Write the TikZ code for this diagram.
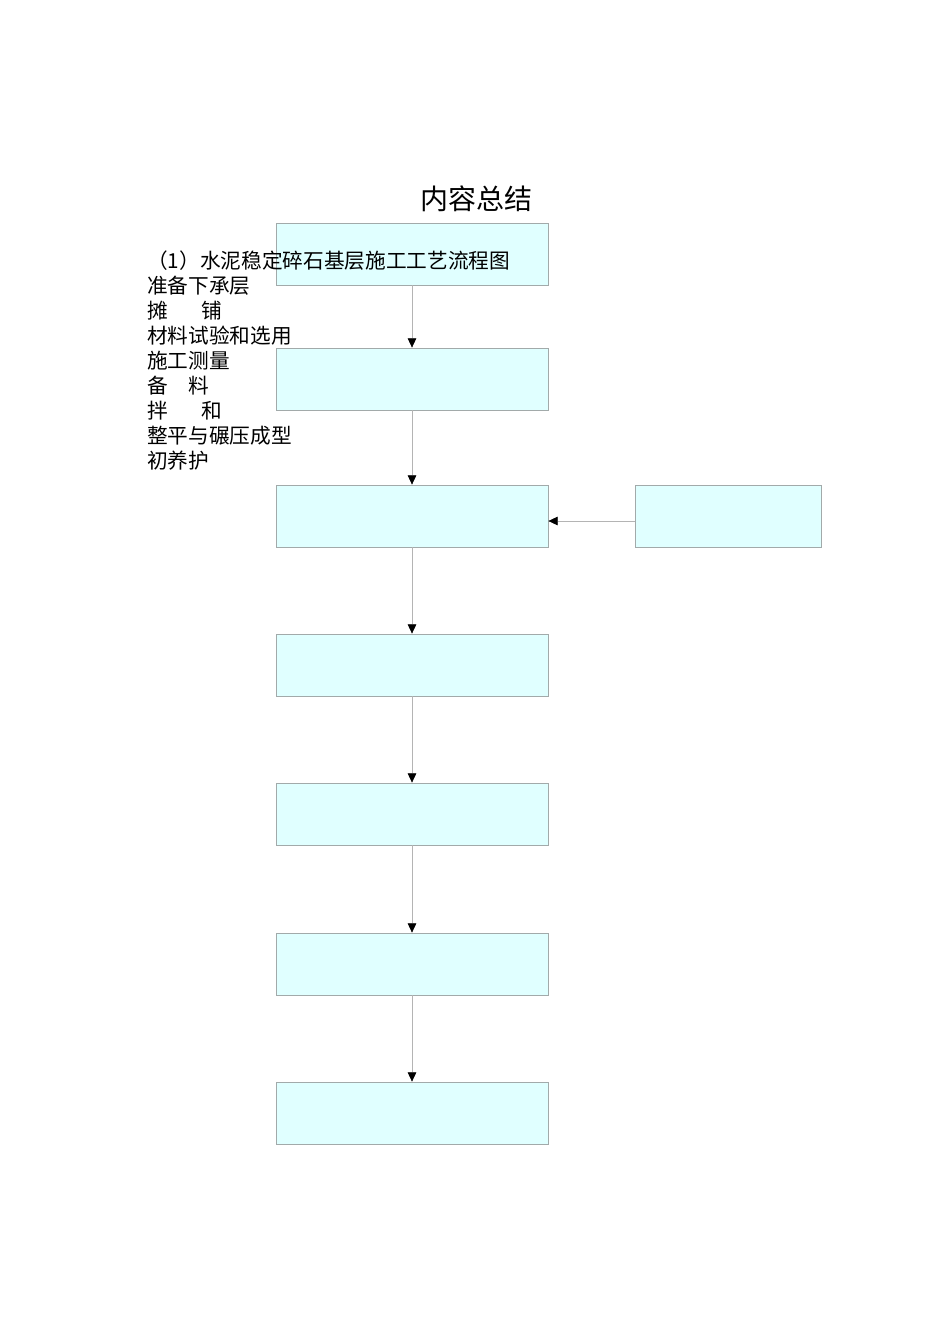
\documentclass[tikz,border=0pt]{standalone}
\usepackage{fontspec}
\setmainfont{Noto Sans CJK SC}
\usetikzlibrary{arrows.meta}
\definecolor{boxfill}{HTML}{E0FFFF}
\definecolor{boxline}{HTML}{A2AAAA}
\definecolor{linkline}{HTML}{B4B4B4}
\begin{document}
\begin{tikzpicture}[x=0.75pt,y=-0.75pt,
    stepbox/.style={draw=boxline,fill=boxfill,line width=0.6pt,inner sep=0pt},
    link/.style={draw=linkline,line width=0.5pt,-{Triangle[color=black,length=7pt,width=6.5pt]}}]
    \useasboundingbox (0,0) rectangle (950,1344);
    \node[font=\fontsize{21pt}{24pt}\selectfont] (title) at (476,199) {内容总结};
    \node[stepbox,minimum width=272*0.75pt,minimum height=62*0.75pt] (s1) at (412,254) {};
    \node[stepbox,minimum width=272*0.75pt,minimum height=62*0.75pt] (s2) at (412,379) {};
    \node[stepbox,minimum width=272*0.75pt,minimum height=62*0.75pt] (s3) at (412,516) {};
    \node[stepbox,minimum width=186*0.75pt,minimum height=62*0.75pt] (s3r) at (728,516) {};
    \node[stepbox,minimum width=272*0.75pt,minimum height=62*0.75pt] (s4) at (412,665) {};
    \node[stepbox,minimum width=272*0.75pt,minimum height=62*0.75pt] (s5) at (412,814) {};
    \node[stepbox,minimum width=272*0.75pt,minimum height=62*0.75pt] (s6) at (412,964) {};
    \node[stepbox,minimum width=272*0.75pt,minimum height=62*0.75pt] (s7) at (412,1113) {};
    \foreach \a/\b in {s1/s2,s2/s3,s3/s4,s4/s5,s5/s6,s6/s7}
        \draw[link] (\a) -- (\b);
    \draw[link] ([yshift=-3.75pt]s3r.west) -- ([yshift=-3.75pt]s3.east);
    \node[anchor=north west,align=left,inner sep=0pt,
        font=\fontsize{15.5pt}{18.75pt}\selectfont] (steps) at (147,251)
        {（1）水泥稳定碎石基层施工工艺流程图\\
        准备下承层\\
        摊\hspace{1.6em}铺\\
        材料试验和选用\\
        施工测量\\
        备\hspace{1em}料\\
        拌\hspace{1.6em}和\\
        整平与碾压成型\\
        初养护};
\end{tikzpicture}
\end{document}
